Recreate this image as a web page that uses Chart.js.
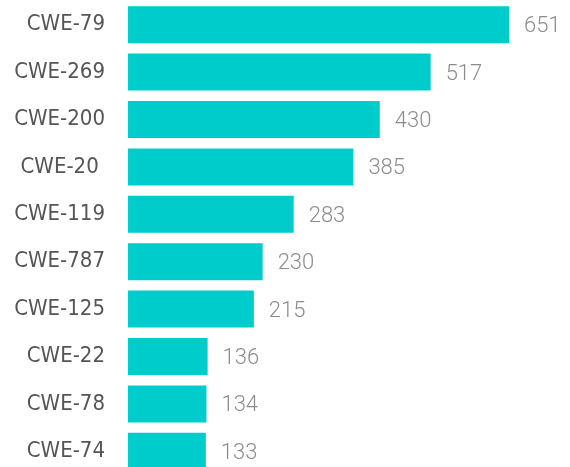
<!DOCTYPE html>
<html>
<head>
<meta charset="utf-8">
<script src="https://cdn.jsdelivr.net/npm/chart.js@4"></script>
<style>
  html, body { margin: 0; padding: 0; overflow: hidden; background: #fff; }
</style>
</head>
<body>
<canvas id="myChart" width="570" height="475"></canvas>
<script>
const categories = ['CWE-79', 'CWE-269', 'CWE-200', 'CWE-20 ', 'CWE-119', 'CWE-787', 'CWE-125', 'CWE-22', 'CWE-78', 'CWE-74'];
const counts = [651, 517, 430, 385, 283, 230, 215, 136, 134, 133];

// value text to the right of each bar
const valueLabels = {
  id: 'valueLabels',
  afterDatasetsDraw(chart) {
    let ctx = chart.ctx;
    let meta = chart.getDatasetMeta(0);
    ctx.save();
    ctx.font = '300 22px Roboto';
    ctx.fillStyle = '#8c8c8c';
    ctx.textAlign = 'left';
    ctx.textBaseline = 'middle';
    meta.data.forEach((bar, i) => {
      ctx.fillText(String(counts[i]), bar.x + 15, bar.y + 2);
    });
    ctx.restore();
  }
};

let ctx = document.getElementById('myChart').getContext('2d');
let myChart = new Chart(ctx, {
  type: 'bar',
  data: {
    labels: categories,
    datasets: [{
      data: counts,
      backgroundColor: '#00cccc',
      categoryPercentage: 1,
      barPercentage: 0.78
    }]
  },
  options: {
    indexAxis: 'y',
    responsive: false,
    animation: false,
    layout: { padding: { top: 1, right: 0, left: 0, bottom: 0 } },
    plugins: {
      legend: { display: false },
      tooltip: { enabled: false }
    },
    scales: {
      x: {
        display: false,
        min: 0,
        max: 755
      },
      y: {
        grid: { display: false },
        border: { display: false },
        ticks: {
          color: '#555555',
          padding: 15,
          font: { family: 'DejaVu Sans Condensed', size: 22 }
        },
        afterFit(scale) {
          scale.width = 128;
          scale.paddingTop = 0;
          scale.paddingBottom = 0;
        }
      }
    }
  },
  plugins: [valueLabels]
});
</script>
</body>
</html>
